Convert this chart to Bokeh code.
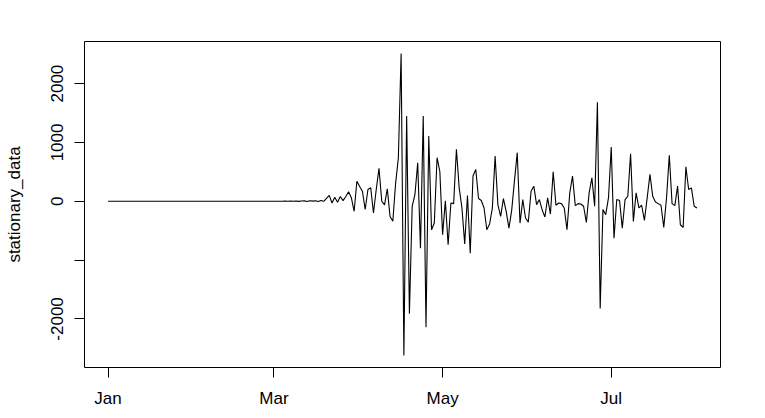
import pandas as pd
from bokeh.plotting import figure
from bokeh.models import Range1d, FixedTicker, DatetimeTickFormatter, ColumnDataSource
from bokeh.embed import file_html
from bokeh.resources import INLINE

start_date = "2020-01-01"

# daily values (differenced series)
values_jan = [0, 0, 0, 0, 0, 0, 0, 0, 0, 0, 0, 0, 0, 0, 0, 0, 0, 0, 0, 0,
              0, 0, 0, 0, 0, 0, 0, 0, 0, 0, 0]
values_feb = [0, 0, 0, 0, 0, 0, 0, 0, 0, 0, 0, 0, 0, 0, 0, 0, 0, 0, 0, 0,
              0, 0, 0, 0, 0, 0, 0, 0, 0]
values_mar = [0, 0, 1, 0, 2, -1, 3, 1, 5, -2, 4, 6, -3, 8, 2, 10, -4, 12,
              0, 50, 100, -30, 70, -15, 80, 10, 80, 160, 60, -170, 340]
values_apr = [250, 170, -140, 200, 230, -200, 200, 560, 0, -60,
              210, -260, -340, 300, 740, 2510, -2620, 1450, -1910, -85,
              115, 655, -800, 1450, -2140, 1110, -485, -370, 740, 510]
values_may = [-570, 10, -740, -29, -40, 884, 228, -114, -724, 97,
              -884, 428, 542, 46, 12, -114, -484, -388, -114, 770,
              -57, -257, 46, -171, -456, -150, 350, 826, -371, 29, -285]
values_jun = [-354, 171, 257, -57, 29, -142, -268, 57, -217, 501,
              -68, -29, -40, -114, -484, 142, 428, -74, -40, -46,
              -85, -359, 142, 398, -85, 1681, -1824, -142, -228, 57]
values_jul = [923, -627, 29, 12, -456, 29, 85, 809, -342, 142,
              -114, -68, -325, 57, 456, 85, -12, -40, -68, -445,
              57, 781, -40, -74, 257, -399, -445, 587, 200, 228, -85]
values_aug = [-114]

values = values_jan + values_feb + values_mar + values_apr + values_may + values_jun + values_jul + values_aug
dates = pd.date_range(start_date, periods=len(values), freq="D")

tick_dates = ["2020-01-01", "2020-03-01", "2020-05-01", "2020-07-01"]
y_ticks = [-2000, -1000, 0, 1000, 2000]
y_tick_labels = ["-2000", "", "0", "1000", "2000"]

src = ColumnDataSource(dict(date=dates, value=values))

span = dates[-1] - dates[0]
x0 = dates[0] - 0.04 * span
x1 = dates[-1] + 0.04 * span
ymin, ymax = min(values), max(values)
pad = 0.04 * (ymax - ymin)

FONT = "Liberation Sans"
FS = "17px"

p = figure(width=757, height=410, x_axis_type="datetime",
           output_backend="svg", toolbar_location=None,
           x_range=Range1d(x0.to_pydatetime(), x1.to_pydatetime()),
           y_range=Range1d(ymin - pad, ymax + pad),
           min_border_left=84, min_border_right=37,
           min_border_top=41, min_border_bottom=43)

p.line("date", "value", source=src, line_color="black", line_width=1.1)

p.grid.visible = False
p.outline_line_color = "black"
p.outline_line_width = 1
p.background_fill_color = "white"
p.border_fill_color = "white"

tick_ms = [pd.Timestamp(d).value / 1e6 for d in tick_dates]
p.xaxis.ticker = FixedTicker(ticks=tick_ms)
p.xaxis.formatter = DatetimeTickFormatter(
    years="%b", months="%b", days="%b", hours="%b", minutes="%b",
    seconds="%b", milliseconds="%b", microseconds="%b", hourmin="%b",
    minsec="%b")

p.yaxis.ticker = FixedTicker(ticks=y_ticks)
p.yaxis.major_label_overrides = {t: l for t, l in zip(y_ticks, y_tick_labels)}
p.yaxis.major_label_orientation = "vertical"
p.yaxis.axis_label = "stationary_data"

for ax in (p.xaxis[0], p.yaxis[0]):
    ax.axis_line_color = None
    ax.major_tick_in = 0
    ax.major_tick_out = 10
    ax.major_tick_line_color = "black"
    ax.minor_tick_line_color = None
    ax.major_label_text_font = FONT
    ax.major_label_text_font_size = FS
    ax.major_label_text_color = "black"
    ax.axis_label_text_font = FONT
    ax.axis_label_text_font_size = FS
    ax.axis_label_text_font_style = "normal"
    ax.axis_label_text_color = "black"

p.xaxis.major_label_standoff = 11
p.yaxis.major_label_standoff = 11
p.yaxis.axis_label_standoff = 25

open("out.html", "w").write(file_html(p, INLINE))
